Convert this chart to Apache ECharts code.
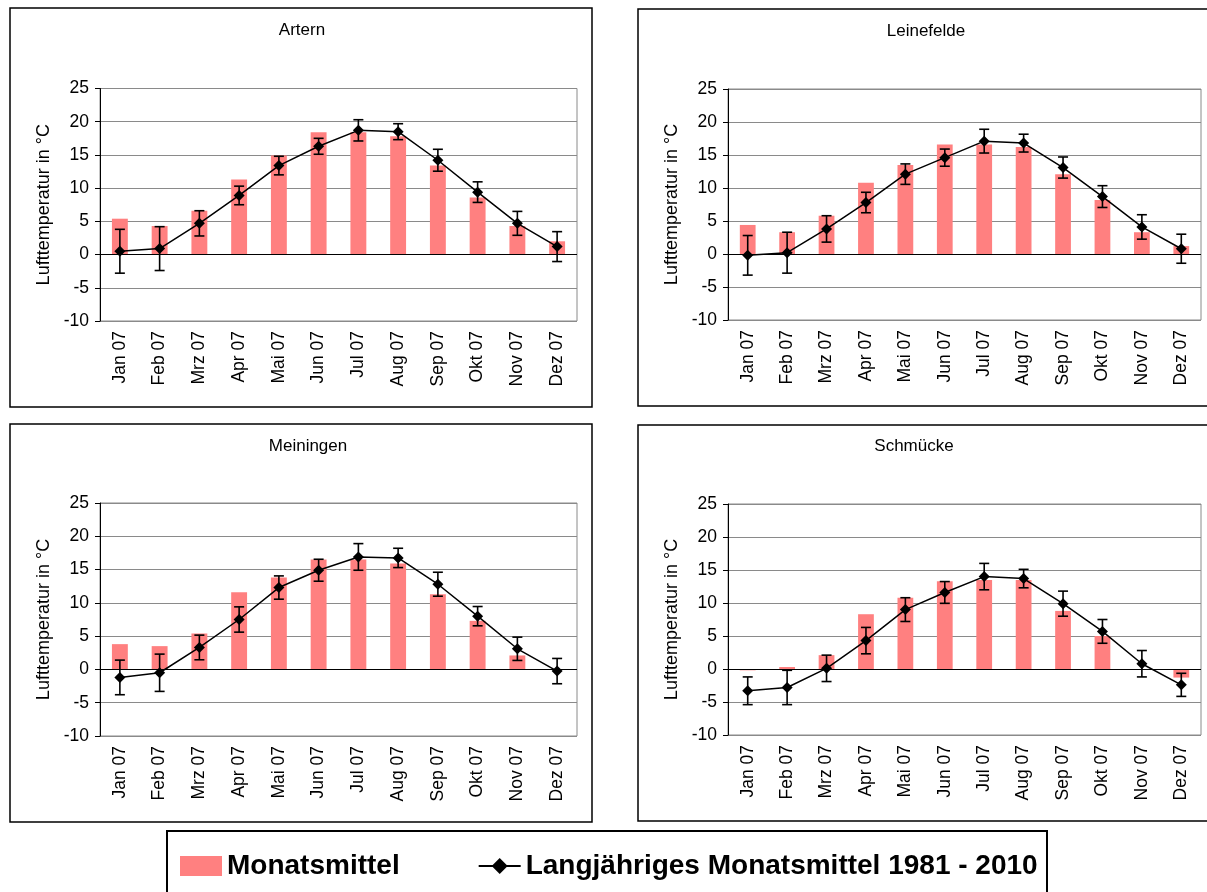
<!DOCTYPE html>
<html>
<head>
<meta charset="utf-8">
<title>Lufttemperatur 2007</title>
<script src="https://cdn.jsdelivr.net/npm/echarts@6/dist/echarts.min.js"></script>
<style>
  html, body { margin: 0; padding: 0; background: #ffffff; }
  #chart { width: 1207px; height: 892px; }
</style>
</head>
<body>
<div id="chart"></div>
<script>
// Monthly categories
const months = ['Jan 07', 'Feb 07', 'Mrz 07', 'Apr 07', 'Mai 07', 'Jun 07',
                'Jul 07', 'Aug 07', 'Sep 07', 'Okt 07', 'Nov 07', 'Dez 07'];
const yTicks = { min: -10, max: 25, step: 5 };

// Artern
const arternMonat = [5.4, 4.3, 6.6, 11.3, 14.9, 18.4, 18.4, 17.8, 13.4, 8.6, 4.3, 2.0];
const arternLang  = [0.5, 0.9, 4.7, 8.9, 13.4, 16.3, 18.7, 18.5, 14.2, 9.4, 4.7, 1.2];
const arternStd   = [3.3, 3.3, 1.9, 1.4, 1.4, 1.2, 1.6, 1.2, 1.65, 1.55, 1.8, 2.25];

// Leinefelde
const leinefeldeMonat = [4.4, 3.3, 5.8, 10.8, 13.5, 16.6, 16.6, 16.2, 12.1, 8.2, 3.3, 1.2];
const leinefeldeLang  = [-0.2, 0.2, 3.8, 7.8, 12.1, 14.6, 17.1, 16.8, 13.1, 8.7, 4.1, 0.8];
const leinefeldeStd   = [3.0, 3.1, 2.0, 1.55, 1.55, 1.3, 1.8, 1.35, 1.6, 1.65, 1.85, 2.2];

// Meiningen
const meiningenMonat = [3.8, 3.5, 5.4, 11.6, 13.8, 16.5, 16.5, 15.9, 11.3, 7.3, 2.1, 0.0];
const meiningenLang  = [-1.2, -0.5, 3.3, 7.5, 12.3, 14.9, 16.9, 16.75, 12.8, 8.0, 3.1, -0.25];
const meiningenStd   = [2.6, 2.8, 1.85, 1.9, 1.75, 1.65, 2.0, 1.45, 1.8, 1.45, 1.75, 1.9];

// Schmücke
const schmueckeMonat = [-0.2, 0.3, 2.1, 8.3, 10.8, 13.3, 13.5, 13.5, 8.8, 5.0, 0.0, -1.3];
const schmueckeLang  = [-3.3, -2.8, 0.1, 4.3, 9.0, 11.6, 14.0, 13.7, 9.9, 5.7, 0.8, -2.4];
const schmueckeStd   = [2.1, 2.6, 2.0, 2.0, 1.8, 1.65, 2.0, 1.4, 1.9, 1.8, 2.0, 1.75];

const stations = [
  { name: 'Artern',     monat: arternMonat,     lang: arternLang,     std: arternStd },
  { name: 'Leinefelde', monat: leinefeldeMonat, lang: leinefeldeLang, std: leinefeldeStd },
  { name: 'Meiningen',  monat: meiningenMonat,  lang: meiningenLang,  std: meiningenStd },
  { name: 'Schmücke',   monat: schmueckeMonat,  lang: schmueckeLang,  std: schmueckeStd }
];

const SERIES_BAR = 'Monatsmittel';
const SERIES_LINE = 'Langjähriges Monatsmittel 1981 - 2010';
const FONT = '"Liberation Sans", Arial, sans-serif';
const AXIS_FONT_SIZE = 17.5;

// Panel frames and plot rectangles (pixels)
const panels = [
  { frame: [10, 8, 582, 399],   plot: { left: 100, top: 88.5, width: 477, height: 232.5 }, titleX: 302, titleY: 30 },
  { frame: [638, 9, 575, 397],  plot: { left: 728, top: 89,   width: 473, height: 231 },   titleX: 926, titleY: 31 },
  { frame: [10, 424, 582, 398], plot: { left: 100, top: 503,  width: 477, height: 233 },   titleX: 308, titleY: 446 },
  { frame: [638, 425, 575, 396],plot: { left: 728, top: 504,  width: 473, height: 231 },   titleX: 914, titleY: 446 }
];

const grids = [], xAxes = [], yAxes = [], series = [], graphics = [];

stations.forEach((st, i) => {
  const p = panels[i];
  grids.push(Object.assign({
    show: true, borderColor: '#8a8a8a', borderWidth: 1, backgroundColor: 'transparent'
  }, p.plot));

  xAxes.push({
    type: 'category', gridIndex: i, data: months,
    axisLine: { show: false, onZero: false },
    axisTick: { show: false },
    axisLabel: { rotate: 90, interval: 0, margin: 10, color: '#000', fontSize: AXIS_FONT_SIZE, fontFamily: FONT }
  });

  yAxes.push({
    type: 'value', gridIndex: i, min: yTicks.min, max: yTicks.max, interval: yTicks.step,
    name: 'Lufttemperatur in °C', nameLocation: 'middle', nameGap: 47,
    nameTextStyle: { color: '#000', fontSize: 18, fontFamily: FONT },
    axisLine: { show: true, lineStyle: { color: '#000', width: 1 } },
    axisTick: { show: true, inside: false, length: 5, lineStyle: { color: '#000' } },
    axisLabel: { margin: 11, color: '#000', fontSize: AXIS_FONT_SIZE, fontFamily: FONT },
    splitLine: { show: true, lineStyle: { color: '#8a8a8a', width: 1 } }
  });

  series.push({
    name: SERIES_BAR, type: 'bar', xAxisIndex: i, yAxisIndex: i,
    data: st.monat, barWidth: '40%',
    itemStyle: { color: '#ff8080' },
    z: 2,
    markLine: {
      silent: true, symbol: 'none', animation: false,
      label: { show: false },
      lineStyle: { color: '#000', width: 1, type: 'solid' },
      data: [{ yAxis: 0 }]
    }
  });

  // Error bars around the long-term mean
  const errData = st.lang.map((v, k) => [k, v - st.std[k], v + st.std[k]]);
  series.push({
    name: 'Streuung ' + st.name, type: 'custom', xAxisIndex: i, yAxisIndex: i,
    data: errData, z: 3, silent: true,
    renderItem: function (params, api) {
      const x = api.value(0);
      const lo = api.coord([x, api.value(1)]);
      const hi = api.coord([x, api.value(2)]);
      const cap = 5;
      const style = { stroke: '#000', lineWidth: 1.6 };
      return {
        type: 'group',
        children: [
          { type: 'line', shape: { x1: lo[0], y1: lo[1], x2: hi[0], y2: hi[1] }, style: style },
          { type: 'line', shape: { x1: lo[0] - cap, y1: lo[1], x2: lo[0] + cap, y2: lo[1] }, style: style },
          { type: 'line', shape: { x1: hi[0] - cap, y1: hi[1], x2: hi[0] + cap, y2: hi[1] }, style: style }
        ]
      };
    }
  });

  series.push({
    name: SERIES_LINE, type: 'line', xAxisIndex: i, yAxisIndex: i,
    data: st.lang, symbol: 'diamond', symbolSize: 11,
    lineStyle: { color: '#000', width: 1.5 },
    itemStyle: { color: '#000' },
    z: 4
  });

  // Panel frame and station title
  graphics.push({
    type: 'rect', silent: true,
    shape: { x: p.frame[0], y: p.frame[1], width: p.frame[2], height: p.frame[3] },
    style: { fill: 'none', stroke: '#000', lineWidth: 1.5 }
  });
  graphics.push({
    type: 'text', silent: true, x: p.titleX, y: p.titleY,
    style: { text: st.name, fill: '#000', font: '17px ' + FONT, textAlign: 'center', textVerticalAlign: 'middle' }
  });
});

// Legend frame
graphics.push({
  type: 'rect', silent: true,
  shape: { x: 167, y: 831, width: 880, height: 80 },
  style: { fill: 'none', stroke: '#000', lineWidth: 2 }
});

const chart = echarts.init(document.getElementById('chart'), null, { renderer: 'canvas' });
chart.setOption({
  animation: false,
  backgroundColor: '#ffffff',
  grid: grids,
  xAxis: xAxes,
  yAxis: yAxes,
  series: series,
  graphic: graphics,
  legend: {
    data: [{ name: SERIES_BAR, icon: 'rect' }, { name: SERIES_LINE }],
    left: 180, top: 852, padding: 0,
    itemWidth: 42, itemHeight: 20, itemGap: 78,
    selectedMode: false,
    textStyle: { color: '#000', fontSize: 28, fontWeight: 'bold', fontFamily: FONT }
  }
});
</script>
</body>
</html>
